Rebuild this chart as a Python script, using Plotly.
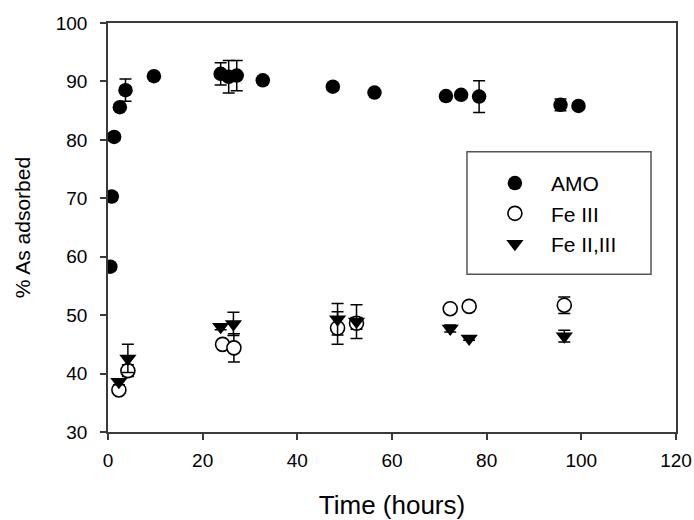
import plotly.graph_objects as go

# Arsenic adsorption over time for three sorbents
amo_time = [0.5, 0.8, 1.3, 2.5, 3.7, 9.7, 23.8, 25.5, 27.2, 32.7, 47.5, 56.3, 71.4, 74.6, 78.4, 95.6, 99.4]
amo_pct = [58.3, 70.3, 80.5, 85.6, 88.5, 90.9, 91.3, 90.8, 91.0, 90.2, 89.1, 88.1, 87.5, 87.7, 87.4, 86.0, 85.8]
amo_err = [0.0, 0.6, 0.0, 0.5, 1.9, 0.0, 1.9, 2.8, 2.6, 0.0, 0.0, 0.0, 0.0, 0.5, 2.7, 1.0, 0.0]

fe3_time = [2.3, 4.2, 24.2, 26.6, 48.5, 52.5, 72.3, 76.3, 96.4]
fe3_pct = [37.2, 40.5, 45.0, 44.4, 47.8, 48.6, 51.1, 51.5, 51.7]
fe3_err = [0.5, 1.0, 0.5, 2.4, 2.8, 1.0, 0.3, 0.3, 1.4]

fe23_time = [2.3, 4.2, 23.8, 26.5, 48.5, 52.5, 72.3, 76.3, 96.4]
fe23_pct = [38.6, 42.6, 48.0, 48.5, 49.3, 48.9, 47.7, 46.0, 46.4]
fe23_err = [0.5, 2.4, 0.5, 2.0, 2.7, 2.9, 0.6, 0.3, 1.0]

x_ticks = [0, 20, 40, 60, 80, 100, 120]
y_ticks = [30, 40, 50, 60, 70, 80, 90, 100]

FONT = "Liberation Sans, Arial, sans-serif"
AXIS = "#3a3a3a"


def err(vals):
    return dict(type="data", array=vals, visible=True, color="black",
                thickness=1.5, width=6)


fig = go.Figure()
fig.add_trace(go.Scatter(
    x=amo_time, y=amo_pct, error_y=err(amo_err), mode="markers", name="AMO",
    marker=dict(symbol="circle", size=14.5, color="black", line=dict(width=0)),
))
fig.add_trace(go.Scatter(
    x=fe3_time, y=fe3_pct, error_y=err(fe3_err), mode="markers", name="Fe III",
    marker=dict(symbol="circle", size=14, color="white",
                line=dict(color="black", width=1.6)),
))
fig.add_trace(go.Scatter(
    x=fe23_time, y=fe23_pct, error_y=err(fe23_err), mode="markers", name="Fe II,III",
    marker=dict(symbol="triangle-down", size=15, color="black", line=dict(width=0)),
))

# framed box around the legend entries
fig.add_shape(type="rect", xref="paper", yref="paper",
              x0=0.632, x1=0.956, y0=0.386, y1=0.685,
              line=dict(color="#555555", width=1.5), fillcolor="white",
              layer="below")

fig.update_layout(
    width=694, height=520,
    margin=dict(l=108, r=18, t=23, b=88),
    paper_bgcolor="white", plot_bgcolor="white",
    font=dict(family=FONT, color="black", size=19),
    showlegend=True,
    legend=dict(
        x=0.653, y=0.658, xanchor="left", yanchor="top",
        bgcolor="rgba(0,0,0,0)", borderwidth=0,
        font=dict(family=FONT, size=21, color="black"),
        itemsizing="trace", itemwidth=62,
    ),
    xaxis=dict(
        range=[0, 120], tickvals=x_ticks, ticktext=[str(v) for v in x_ticks],
        showgrid=False, zeroline=False, automargin=False,
        showline=True, linecolor=AXIS, linewidth=1.5, mirror=True,
        ticks="outside", ticklen=6, tickwidth=1.5, tickcolor=AXIS,
        tickfont=dict(size=19), ticklabelstandoff=4,
        title=dict(text="Time (hours)", font=dict(size=26), standoff=33),
    ),
    yaxis=dict(
        range=[30, 100], tickvals=y_ticks, ticktext=[str(v) for v in y_ticks],
        showgrid=False, zeroline=False, automargin=False,
        showline=True, linecolor=AXIS, linewidth=1.5, mirror=True,
        ticks="outside", ticklen=6, tickwidth=1.5, tickcolor=AXIS,
        tickfont=dict(size=19), ticklabelstandoff=9,
        title=dict(text="% As adsorbed", font=dict(size=21), standoff=19),
    ),
)

fig.write_html("out.html")
